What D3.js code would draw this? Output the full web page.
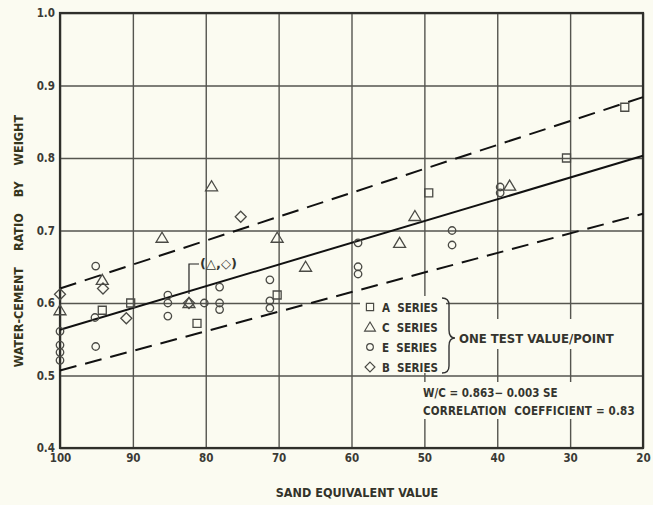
<!DOCTYPE html>
<html>
<head>
<meta charset="utf-8">
<script src="https://d3js.org/d3.v7.min.js"></script>
<style>
  body { margin: 0; background: #fbfbf1; }
  text { font-family: "DejaVu Sans Condensed", "DejaVu Sans", sans-serif; }
</style>
</head>
<body>
<script>
// tick values / labels
var xTicks = [100, 90, 80, 70, 60, 50, 40, 30, 20];
var yTicks = [0.4, 0.5, 0.6, 0.7, 0.8, 0.9, 1.0];
var yTickLabels = ["0.4", "0.5", "0.6", "0.7", "0.8", "0.9", "1.0"];

// [sand equivalent, w/c ratio]
var seriesA = [[94.2, 0.59], [90.3, 0.60], [81.2, 0.572], [70.2, 0.611], [49.4, 0.752], [30.5, 0.80], [22.5, 0.87]];
var seriesC = [[100, 0.59], [94.2, 0.632], [86.0, 0.69], [79.2, 0.761], [70.2, 0.69], [66.3, 0.65],
               [53.4, 0.683], [51.3, 0.72], [82.3, 0.60], [38.3, 0.762]];
var seriesE = [[95.1, 0.651], [95.2, 0.58], [100, 0.561], [100, 0.542], [100, 0.532], [100, 0.521],
               [95.1, 0.54], [85.2, 0.611], [85.2, 0.60], [85.2, 0.582], [80.2, 0.60],
               [78.1, 0.622], [78.1, 0.60], [78.1, 0.591], [71.2, 0.632], [71.2, 0.603], [71.2, 0.593],
               [59.1, 0.683], [59.1, 0.65], [59.1, 0.64], [46.2, 0.70], [46.2, 0.68], [39.6, 0.76], [39.6, 0.752]];
var seriesB = [[100, 0.612], [94.1, 0.62], [90.9, 0.579], [75.2, 0.719], [82.3, 0.60]];

// fitted line W/C = 0.863 - 0.003 SE and the two dashed limits (end points)
var fitLine = [[100, 0.563], [20, 0.803]];
var upperLine = [[100, 0.62], [20, 0.884]];
var lowerLine = [[100, 0.507], [20, 0.723]];

var legendItems = [["square", "A  SERIES"], ["triangle", "C  SERIES"], ["circle", "E  SERIES"], ["diamond", "B  SERIES"]];

var W = 653, H = 505;
var pL = 60, pR = 643, pT = 13, pB = 448;

var svg = d3.select("body").append("svg")
  .attr("width", W).attr("height", H);

svg.append("rect").attr("width", W).attr("height", H).attr("fill", "#fbfbf1");

var x = d3.scaleLinear().domain([100, 20]).range([pL, pR]);
var y = d3.scaleLinear().domain([0.4, 1.0]).range([pB, pT]);

var ink = "#34342e";

// grid + labels
var xAxis = svg.append("g")
  .attr("transform", "translate(0," + pB + ")")
  .call(d3.axisBottom(x).tickValues(xTicks).tickSize(-(pB - pT)).tickPadding(6).tickFormat(d3.format("d")));
var yAxis = svg.append("g")
  .attr("transform", "translate(" + pL + ",0)")
  .call(d3.axisLeft(y).tickValues(yTicks).tickSize(-(pR - pL)).tickPadding(5)
    .tickFormat(function(d, i) { return yTickLabels[i]; }));

[xAxis, yAxis].forEach(function(g) {
  g.select(".domain").remove();
  g.selectAll("line").attr("stroke", "#55554f").attr("stroke-width", 1.4);
  g.selectAll("text").attr("fill", "#3a3a35").style("font-size", "11.5px").style("font-weight", "bold")
    .style("font-family", "'DejaVu Sans Condensed', 'DejaVu Sans', sans-serif");
});

// boxes behind the text blocks (they hide the grid on the original)
var bg = "#fbfbf1";
svg.append("rect").attr("x", 360).attr("y", 296).attr("width", 86).attr("height", 77).attr("fill", bg);
svg.append("rect").attr("x", 455).attr("y", 319).attr("width", 186).attr("height", 30).attr("fill", bg);
svg.append("rect").attr("x", 420).attr("y", 382).attr("width", 221).attr("height", 37).attr("fill", bg);

// frame
svg.append("rect")
  .attr("x", pL).attr("y", pT).attr("width", pR - pL).attr("height", pB - pT)
  .attr("fill", "none").attr("stroke", "#2f2f2b").attr("stroke-width", 2.2);

// lines
var line = d3.line().x(function(d) { return x(d[0]); }).y(function(d) { return y(d[1]); });
svg.append("path").attr("d", line(fitLine)).attr("fill", "none")
  .attr("stroke", "#111").attr("stroke-width", 2);
[upperLine, lowerLine].forEach(function(l) {
  svg.append("path").attr("d", line(l)).attr("fill", "none")
    .attr("stroke", "#111").attr("stroke-width", 2).attr("stroke-dasharray", "17,9");
});

// markers
var shapes = {
  square: "M-4,-4H4V4H-4Z",
  triangle: "M0,-5.5L6,4.5H-6Z",
  circle: d3.symbol().type(d3.symbolCircle).size(44)(),
  diamond: "M0,-5.5L5.5,0L0,5.5L-5.5,0Z"
};
function drawSeries(data, shape) {
  svg.append("g").selectAll("path")
    .data(data).enter().append("path")
    .attr("d", shapes[shape])
    .attr("transform", function(d) { return "translate(" + x(d[0]) + "," + y(d[1]) + ")"; })
    .attr("fill", "none").attr("stroke", "#4a4a45").attr("stroke-width", 1.3);
}
drawSeries(seriesA, "square");
drawSeries(seriesC, "triangle");
drawSeries(seriesE, "circle");
drawSeries(seriesB, "diamond");

// (△,◇) call-out
svg.append("path")
  .attr("d", "M199,264 H" + x(82.3) + " V" + (y(0.60) - 9))
  .attr("fill", "none").attr("stroke", "#222").attr("stroke-width", 1.2);
svg.append("text").attr("x", 200).attr("y", 268).attr("fill", ink)
  .style("font-family", "'DejaVu Sans', sans-serif")
  .style("font-size", "13px").style("font-weight", "bold").text("(△,◇)");

// legend
var lg = svg.append("g");
legendItems.forEach(function(d, i) {
  var yy = 307 + i * 20;
  lg.append("path").attr("d", shapes[d[0]])
    .attr("transform", "translate(370," + yy + ") scale(0.9)")
    .attr("fill", "none").attr("stroke", "#4a4a45").attr("stroke-width", 1.3);
  lg.append("text").attr("x", 382).attr("y", yy + 4.5).attr("fill", ink)
    .style("font-size", "11.5px").style("font-weight", "bold")
    .attr("xml:space", "preserve").text(d[1]);
});
// brace
svg.append("path")
  .attr("d", "M442,298 Q449,298 449,305 L449,330 Q449,338 455,338 Q449,338 449,346 L449,366 Q449,373 442,373")
  .attr("fill", "none").attr("stroke", "#333").attr("stroke-width", 1.4);
svg.append("text").attr("x", 459).attr("y", 343).attr("fill", ink)
  .style("font-size", "13px").style("font-weight", "bold").text("ONE TEST VALUE/POINT");

svg.append("text").attr("x", 423).attr("y", 397).attr("fill", ink)
  .style("font-size", "11.5px").style("font-weight", "bold").text("W/C = 0.863− 0.003 SE");
svg.append("text").attr("x", 423).attr("y", 415).attr("fill", ink)
  .style("font-size", "11.5px").style("font-weight", "bold").style("letter-spacing", "0.2px")
  .attr("xml:space", "preserve").text("CORRELATION  COEFFICIENT = 0.83");

// axis titles
svg.append("text").attr("x", 357).attr("y", 497).attr("text-anchor", "middle")
  .attr("fill", "#33332a").style("font-size", "12.5px").style("font-weight", "bold")
  .text("SAND EQUIVALENT VALUE");
svg.append("text")
  .attr("transform", "translate(23,241) rotate(-90)")
  .attr("text-anchor", "middle").attr("fill", "#35351c")
  .style("font-size", "12.5px").style("font-weight", "bold").style("word-spacing", "12px")
  .text("WATER-CEMENT RATIO BY WEIGHT");
</script>
</body>
</html>
